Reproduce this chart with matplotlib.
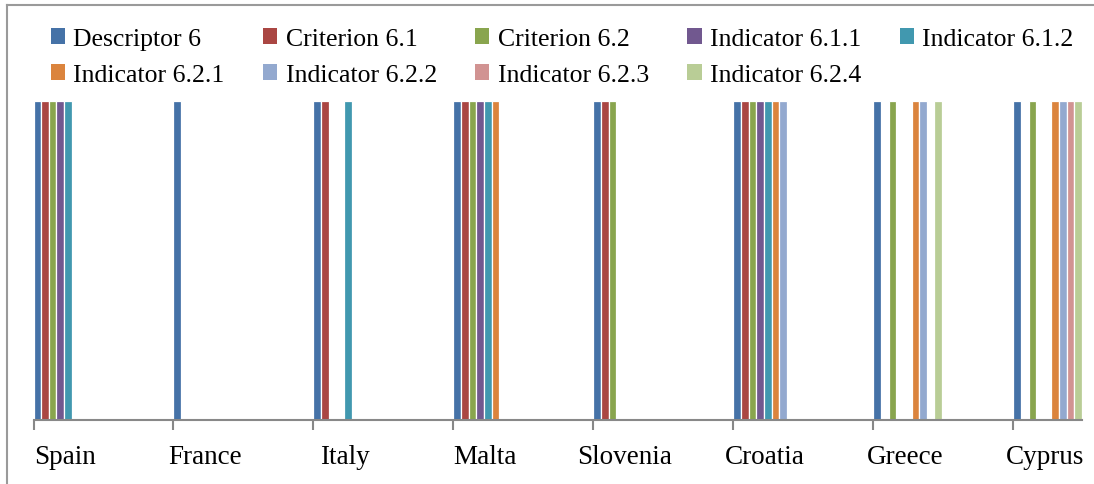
import matplotlib
matplotlib.use("Agg")
import matplotlib.pyplot as plt
import numpy as np
from matplotlib.lines import Line2D
from matplotlib.patches import Patch

countries = ["Spain", "France", "Italy", "Malta", "Slovenia", "Croatia", "Greece", "Cyprus"]
series_names = ["Descriptor 6", "Criterion 6.1", "Criterion 6.2", "Indicator 6.1.1",
                "Indicator 6.1.2", "Indicator 6.2.1", "Indicator 6.2.2",
                "Indicator 6.2.3", "Indicator 6.2.4"]

# 1 = element addressed by the country, 0 = not addressed
descriptor_6    = [1, 1, 1, 1, 1, 1, 1, 1]
criterion_6_1   = [1, 0, 1, 1, 1, 1, 0, 0]
criterion_6_2   = [1, 0, 0, 1, 1, 1, 1, 1]
indicator_6_1_1 = [1, 0, 0, 1, 0, 1, 0, 0]
indicator_6_1_2 = [1, 0, 1, 1, 0, 1, 0, 0]
indicator_6_2_1 = [0, 0, 0, 1, 0, 1, 1, 1]
indicator_6_2_2 = [0, 0, 0, 0, 0, 1, 1, 1]
indicator_6_2_3 = [0, 0, 0, 0, 0, 0, 0, 1]
indicator_6_2_4 = [0, 0, 0, 0, 0, 0, 1, 1]

series_values = [descriptor_6, criterion_6_1, criterion_6_2, indicator_6_1_1,
                 indicator_6_1_2, indicator_6_2_1, indicator_6_2_2,
                 indicator_6_2_3, indicator_6_2_4]

colors = ["#4572A7", "#AA4643", "#89A54E", "#71588F", "#4198AF",
          "#DB843D", "#93A9CF", "#D19392", "#B9CD96"]

W, H = 1094, 485
fig = plt.figure(figsize=(W / 100, H / 100), dpi=100)
fig.patch.set_facecolor("white")

# axes placement in pixels
x0, x1 = 33.5, 1082
y_top, y_bot = 102, 421
ax = fig.add_axes([x0 / W, 1 - y_bot / H, (x1 - x0) / W, (y_bot - y_top) / H])

pitch = 0.0545
n_series = len(series_values)
x = np.arange(len(countries))
for j, (vals, col) in enumerate(zip(series_values, colors)):
    ax.bar(x + j * pitch, vals, width=pitch, align="edge", color=col,
           edgecolor="white", linewidth=0.9)

ax.set_xlim(0, len(countries) - 1 + n_series * pitch)
ax.set_ylim(0, 1)
ax.set_yticks([])
for s in ["top", "right", "left"]:
    ax.spines[s].set_visible(False)
ax.spines["bottom"].set_color("#888888")
ax.spines["bottom"].set_linewidth(1.5)

# tick marks at group starts, labels centred under groups
ax.set_xticks(x, minor=True)
ax.tick_params(axis="x", which="minor", length=7, width=1.5, color="#888888")
ax.set_xticks(x + n_series * pitch / 2 - 0.02)
ax.set_xticklabels(countries, fontfamily="Liberation Serif", fontsize=19.5)
ax.tick_params(axis="x", which="major", length=0, pad=17.5)

# legend filled row by row (5 columns, 2 rows)
order = [0, 5, 1, 6, 2, 7, 3, 8, 4]
handles = [Patch(facecolor=colors[i], edgecolor="none") for i in order]
labels = [series_names[i] for i in order]
leg = fig.legend(handles, labels, ncol=5, loc="upper left",
                 bbox_to_anchor=(51 / W, 1 - 29 / H), frameon=False,
                 prop={"family": "Liberation Serif", "size": 18.5},
                 handlelength=0.55, handleheight=0.55, handletextpad=0.32,
                 columnspacing=1.5, labelspacing=0.55, borderpad=0,
                 borderaxespad=0)

# outer chart frame
fig.add_artist(Line2D([7 / W, 7 / W], [0, 1 - 6 / H], transform=fig.transFigure,
                      color="#9a9a9a", linewidth=1.5))
fig.add_artist(Line2D([7 / W, 1], [1 - 6 / H, 1 - 6 / H], transform=fig.transFigure,
                      color="#9a9a9a", linewidth=1.5))

fig.savefig("out.png", dpi=100)
